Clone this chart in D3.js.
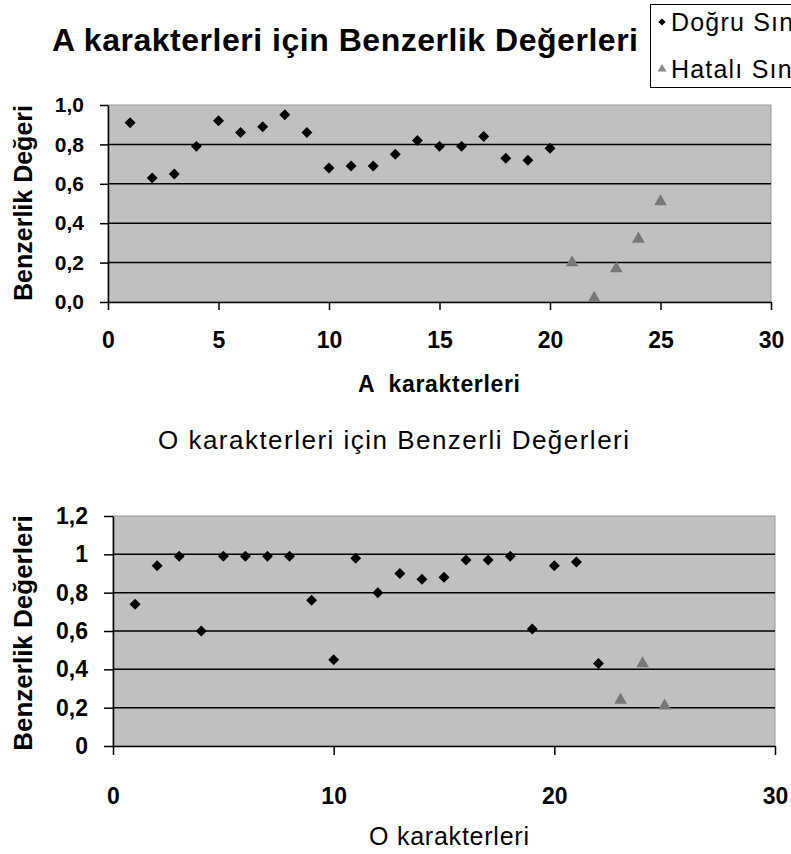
<!DOCTYPE html>
<html><head><meta charset="utf-8">
<script src="https://cdn.jsdelivr.net/npm/d3@7"></script>
<style>
body{margin:0;background:#fff}
svg{display:block}
text{font-family:"Liberation Sans",Arial,sans-serif;fill:#000}
</style>
</head><body>
<svg id="c" width="791" height="854"></svg>
<script>
// ---- Data: A characters ----
const aCorrectX = [1,2,3,4,5,6,7,8,9,10,11,12,13,14,15,16,17,18,19,20];
const aCorrectY = [0.91,0.63,0.65,0.79,0.92,0.86,0.89,0.95,0.86,0.68,0.69,0.69,0.75,0.82,0.79,0.79,0.84,0.73,0.72,0.78];
const aWrongX = [21,22,23,24,25];
const aWrongY = [0.20,0.02,0.17,0.32,0.51];
const aXTicks = [0,5,10,15,20,25,30];
const aYTicks = [0,0.2,0.4,0.6,0.8,1.0];
const aYLabels = ["0,0","0,2","0,4","0,6","0,8","1,0"];

// ---- Data: O characters ----
const oCorrectX = [1,2,3,4,5,6,7,8,9,10,11,12,13,14,15,16,17,18,19,20,21,22];
const oCorrectY = [0.74,0.94,0.99,0.60,0.99,0.99,0.99,0.99,0.76,0.45,0.98,0.80,0.90,0.87,0.88,0.97,0.97,0.99,0.61,0.94,0.96,0.43];
const oWrongX = [23,24,25];
const oWrongY = [0.24,0.43,0.21];
const oXTicks = [0,10,20,30];
const oYTicks = [0,0.2,0.4,0.6,0.8,1.0,1.2];
const oYLabels = ["0","0,2","0,4","0,6","0,8","1","1,2"];

const legendLabels = ["Doğru Sınıflandırma","Hatalı Sınıflandırma"];

const svg = d3.select("#c");
const FONT = '"Liberation Sans",Arial,sans-serif';

function panel(o){
  const x = d3.scaleLinear().domain([0,30]).range([o.left,o.right]);
  const y = d3.scaleLinear().domain([0,o.yMax]).range([o.bottom,o.top]);
  const g = svg.append("g");
  g.append("rect").attr("x",o.left).attr("y",o.top)
    .attr("width",o.right-o.left).attr("height",o.bottom-o.top)
    .attr("fill","#c0c0c0").attr("stroke","#9a9a9a").attr("stroke-width",1);
  g.append("g").selectAll("line")
    .data(o.yTicks.filter(v=>v>0 && v<o.yMax)).join("line")
    .attr("x1",o.left).attr("x2",o.right)
    .attr("y1",d=>y(d)).attr("y2",d=>y(d))
    .attr("stroke","#000").attr("stroke-width",1.5);

  const ya = d3.axisLeft(y).tickValues(o.yTicks)
    .tickFormat((d,i)=>o.yLabels[i]).tickSize(o.tick).tickPadding(o.yPad).tickSizeOuter(0);
  const gy = g.append("g").attr("transform",`translate(${o.left},0)`).call(ya);
  const xa = d3.axisBottom(x).tickValues(o.xTicks).tickSize(o.tick).tickPadding(o.xPad).tickSizeOuter(0);
  const gx = g.append("g").attr("transform",`translate(0,${o.bottom})`).call(xa);
  [gy,gx].forEach(a=>{
    a.selectAll("path,line").attr("stroke","#000").attr("stroke-width",1.5);
  });
  gy.selectAll("text").attr("font-family",FONT).attr("font-size",o.yFont).attr("font-weight","bold").attr("fill","#000");
  gx.selectAll("text").attr("font-family",FONT).attr("font-size",o.xFont).attr("font-weight","bold").attr("fill","#000");

  g.append("g").selectAll("path").data(o.cx).join("path")
    .attr("d",d3.symbol(d3.symbolSquare,60)())
    .attr("transform",(d,i)=>`translate(${x(d)},${y(o.cy[i])}) rotate(45)`)
    .attr("fill","#000");
  g.append("g").selectAll("path").data(o.wx).join("path")
    .attr("d",d3.symbol(d3.symbolTriangle,70)())
    .attr("transform",(d,i)=>`translate(${x(d)},${y(o.wy[i])})`)
    .attr("fill","#777");
}

panel({left:108,right:771,top:105,bottom:302,yMax:1.0,
  yTicks:aYTicks,yLabels:aYLabels,xTicks:aXTicks,tick:8,yPad:16,xPad:22,
  yFont:21,xFont:23,
  cx:aCorrectX,cy:aCorrectY,wx:aWrongX,wy:aWrongY});

panel({left:113,right:775,top:516,bottom:746,yMax:1.2,
  yTicks:oYTicks,yLabels:oYLabels,xTicks:oXTicks,tick:9,yPad:16,xPad:33,
  yFont:23,xFont:23,
  cx:oCorrectX,cy:oCorrectY,wx:oWrongX,wy:oWrongY});

// Titles
svg.append("text").attr("x",52).attr("y",51)
  .attr("font-size",32).attr("font-weight","bold")
  .attr("textLength",586).attr("lengthAdjust","spacing")
  .text("A karakterleri için Benzerlik Değerleri");
svg.append("text").attr("x",358).attr("y",392)
  .attr("font-size",23).attr("font-weight","bold")
  .attr("textLength",162).attr("lengthAdjust","spacing")
  .attr("xml:space","preserve")
  .text("A  karakterleri");
svg.append("text").attr("x",158).attr("y",449)
  .attr("font-size",26)
  .attr("textLength",471).attr("lengthAdjust","spacing")
  .text("O karakterleri için Benzerli Değerleri");
svg.append("text").attr("x",369).attr("y",845)
  .attr("font-size",25)
  .attr("textLength",160).attr("lengthAdjust","spacing")
  .text("O karakterleri");
// Y titles
svg.append("text").attr("transform","translate(32,203) rotate(-90)").attr("text-anchor","middle")
  .attr("font-size",25).attr("font-weight","bold")
  .text("Benzerlik Değeri");
svg.append("text").attr("transform","translate(32,633) rotate(-90)").attr("text-anchor","middle")
  .attr("font-size",26).attr("font-weight","bold")
  .text("Benzerlik Değerleri");

// Legend
const lg = svg.append("g");
lg.append("rect").attr("x",650.5).attr("y",4.5).attr("width",200).attr("height",83)
  .attr("fill","#fff").attr("stroke","#000").attr("stroke-width",1);
lg.append("path").attr("d",d3.symbol(d3.symbolSquare,26)())
  .attr("transform","translate(662,22) rotate(45)").attr("fill","#000");
lg.append("path").attr("d",d3.symbol(d3.symbolTriangle,34)())
  .attr("transform","translate(662,69)").attr("fill","#888");
lg.selectAll("text.l").data(legendLabels).join("text").attr("class","l")
  .attr("x",671).attr("y",(d,i)=>i===0?31:78)
  .attr("font-size",25).attr("letter-spacing",1.2)
  .text(d=>d);
</script>
</body></html>
